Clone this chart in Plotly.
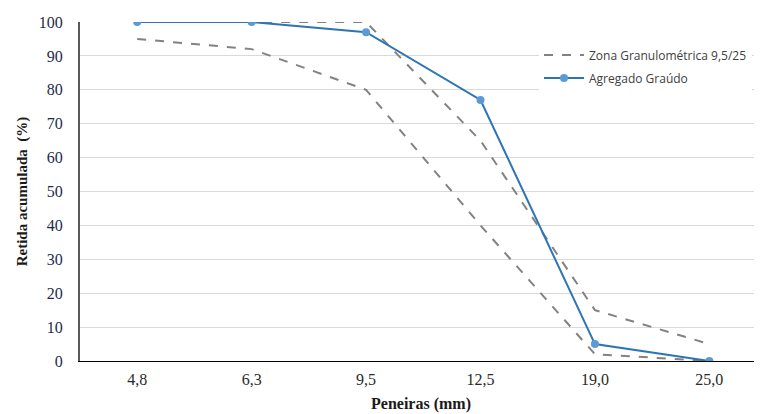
import plotly.graph_objects as go

categorias = ["4,8", "6,3", "9,5", "12,5", "19,0", "25,0"]
limite_superior = [100, 100, 100, 65, 15, 5]
limite_inferior = [95, 92, 80, 40, 2, 0]
agregado_graudo = [100, 100, 97, 77, 5, 0]
y_ticks = list(range(0, 101, 10))

fig = go.Figure()
fig.add_trace(go.Scatter(
    x=categorias, y=limite_superior, mode="lines",
    name="Zona Granulométrica 9,5/25", legendgroup="zona",
    line=dict(color="#828282", width=2, dash="dash"),
))
fig.add_trace(go.Scatter(
    x=categorias, y=limite_inferior, mode="lines",
    name="Zona Granulométrica 9,5/25", legendgroup="zona", showlegend=False,
    line=dict(color="#828282", width=2, dash="dash"),
))
fig.add_trace(go.Scatter(
    x=categorias, y=agregado_graudo, mode="lines+markers",
    name="Agregado Graúdo",
    line=dict(color="#2e75b6", width=2),
    marker=dict(color="#5b9bd5", size=8),
))

fig.update_layout(
    width=754, height=406,
    margin=dict(l=72, r=0, t=14, b=53, autoexpand=False),
    paper_bgcolor="white", plot_bgcolor="white",
    showlegend=True,
    legend=dict(
        x=0.673, y=0.869, xanchor="left", yanchor="middle",
        bgcolor="white", borderwidth=0,
        font=dict(family="Open Sans, sans-serif", size=12, color="#404040"),
        tracegroupgap=4, itemwidth=40,
    ),
    xaxis=dict(
        type="category", range=[-0.5, 5.46],
        showline=True, linecolor="#000000", linewidth=1,
        showgrid=False, ticks="", ticklabelstandoff=4,
        tickfont=dict(family="Liberation Serif, serif", size=16, color="#2a2a2a"),
        title=dict(text="<b>Peneiras (mm)</b>", standoff=10,
                   font=dict(family="Liberation Serif, serif", size=16, color="#1a1a1a")),
    ),
    yaxis=dict(
        range=[0, 100], tickvals=y_ticks,
        showline=True, linecolor="#595959", linewidth=2,
        showgrid=True, gridcolor="#d9d9d9", gridwidth=1,
        zeroline=False, ticks="", ticklabelstandoff=12,
        tickfont=dict(family="Liberation Serif, serif", size=16, color="#1f2a4a"),
        title=dict(text="<b>Retida acumulada  (%)</b>", standoff=8,
                   font=dict(family="Liberation Serif, serif", size=15, color="#1a1a1a")),
    ),
)

fig.write_html("out.html")
